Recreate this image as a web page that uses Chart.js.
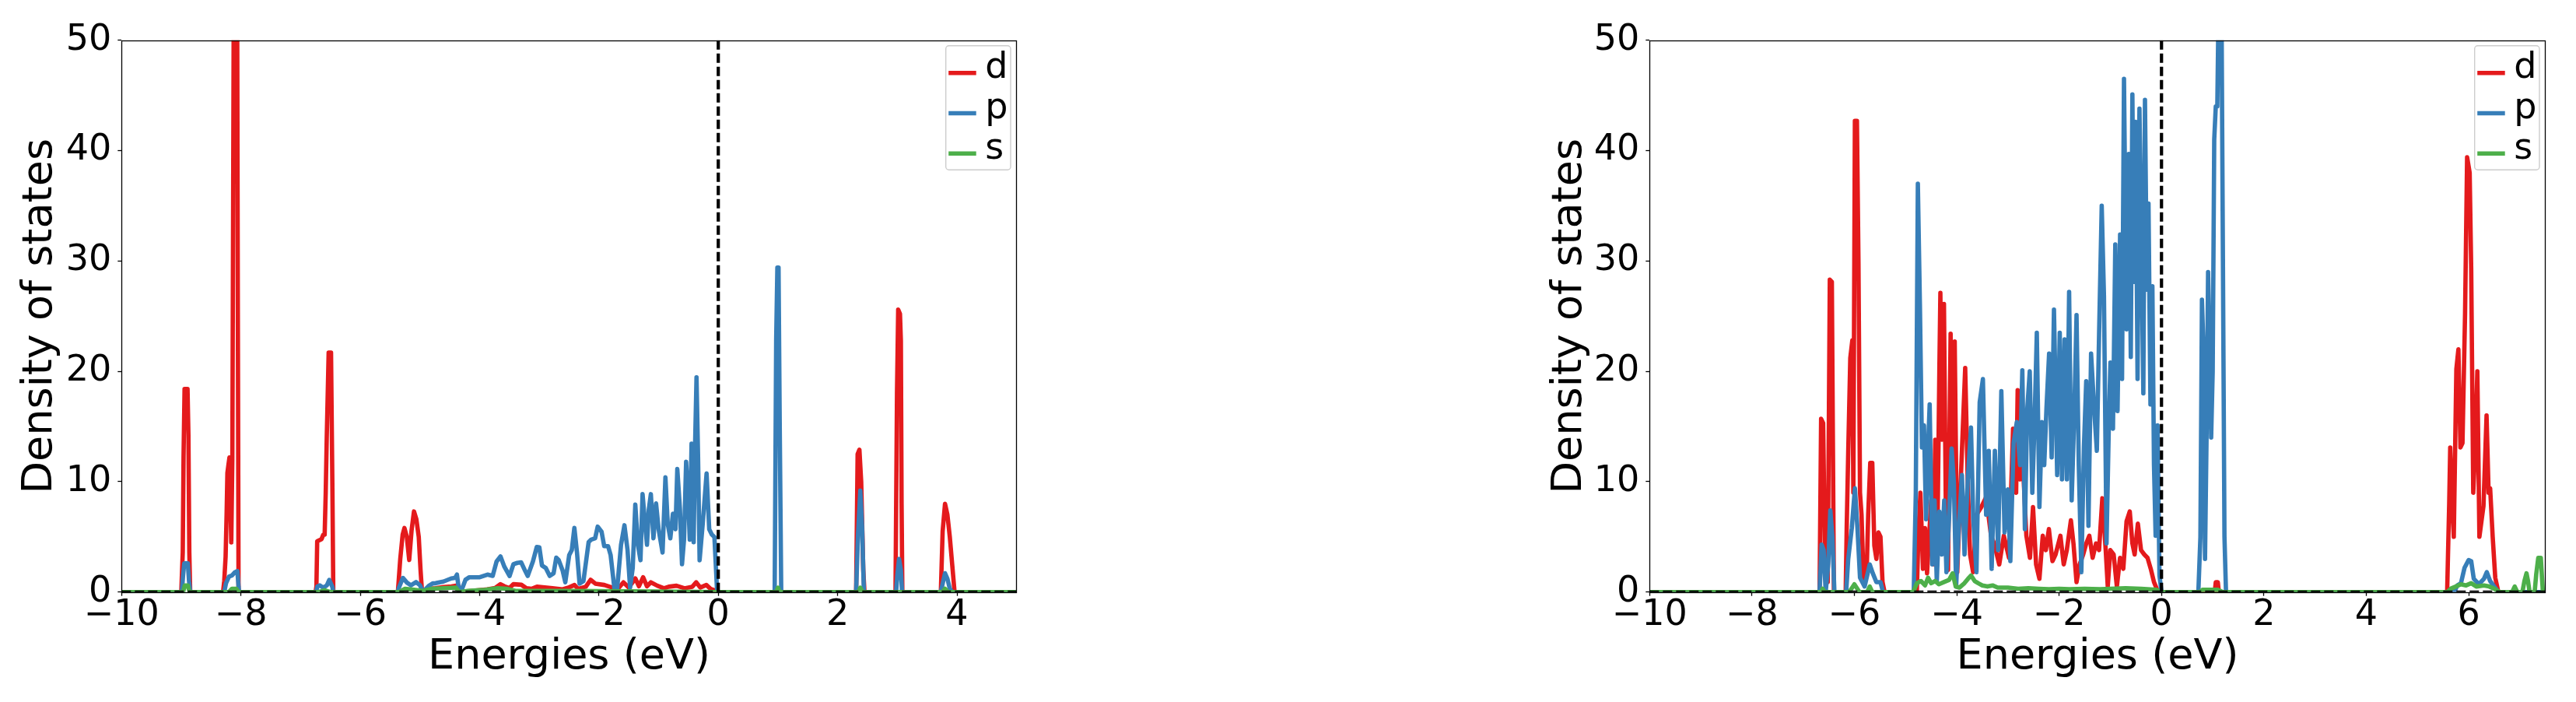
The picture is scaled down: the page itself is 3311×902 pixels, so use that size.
<!DOCTYPE html>
<html>
<head>
<meta charset="utf-8">
<script src="https://cdn.jsdelivr.net/npm/chart.js@4.4.1/dist/chart.umd.min.js"></script>
<style>
  html, body { margin: 0; padding: 0; background: #ffffff; }
  body { width: 3311px; height: 902px; position: relative; overflow: hidden; }
  canvas { position: absolute; top: 0; }
  #cL { left: 0px; }
  #cR { left: 1950px; }
</style>
</head>
<body>
<canvas id="cL" width="1400" height="902"></canvas>
<canvas id="cR" width="1361" height="902"></canvas>
<script>
// ---------------- DATA ----------------
const seriesNames = ['d', 'p', 's'];
const seriesColors = ['#e41a1c', '#377eb8', '#4daf4a'];
const yTicks = [0, 10, 20, 30, 40, 50];
const xTicksLeft = [-10, -8, -6, -4, -2, 0, 2, 4];
const xTicksRight = [-10, -8, -6, -4, -2, 0, 2, 4, 6];
const xRangeLeft = [-10, 5];
const xRangeRight = [-10, 7.5];
const yRange = [0, 50];
const fermiLevel = 0;

// Left panel, d
const L_dE = [-10,-9.0,-8.975,-8.962,-8.945,-8.895,-8.88,-8.865,-8.85,
  -8.30,-8.28,-8.257,-8.24,-8.227,-8.21,-8.192,-8.162,-8.144,-8.118,-8.065,-8.052,-8.04,
  -6.75,-6.735,-6.722,-6.649,-6.62,-6.597,-6.579,-6.562,-6.53,-6.49,-6.467,-6.452,
  -5.37,-5.33,-5.29,-5.26,-5.22,-5.18,-5.14,-5.10,-5.06,-5.02,-4.99,-4.965,
  -4.95,-4.85,-4.74,-4.60,-4.47,-4.41,-4.35,-4.33,-4.25,-4.1,-3.87,-3.74,-3.65,-3.585,-3.50,-3.433,-3.30,-3.216,-3.13,-3.04,-2.91,-2.78,-2.61,-2.52,-2.41,-2.35,-2.22,-2.14,-2.06,-1.91,-1.78,-1.70,-1.59,-1.50,-1.39,-1.33,-1.26,-1.195,-1.13,-1.02,-0.91,-0.83,-0.70,-0.565,-0.435,-0.37,-0.30,-0.20,-0.13,-0.065,-0.02,
  2.31,2.335,2.365,2.395,2.43,2.45,
  2.97,2.995,3.015,3.045,3.06,3.072,3.085,
  3.73,3.76,3.80,3.84,3.88,3.92,3.96,5];
const L_dV = [0,0,3.6,12.2,18.4,18.4,14.2,3.6,0,
  0,1,3.2,7.1,10.8,11.5,12.2,4.5,12,58,58,25.6,0,
  0,0.5,4.6,4.8,5.2,5.2,9,14,21.7,21.7,9.4,0,
  0,3.0,5.2,5.8,5.0,2.9,5.6,7.3,6.6,5.0,2.0,0,
  0.1,0.3,0.34,0.45,0.5,0.57,0.55,0,0.05,0.12,0.24,0.36,0.71,0.52,0.36,0.71,0.66,0.34,0.29,0.48,0.41,0.34,0.24,0.38,0.64,0.29,0.48,1.11,0.76,0.64,0.41,0.17,0.88,0.41,1.23,0.52,1.34,0.52,0.88,0.57,0.34,0.48,0.57,0.34,0.48,0.88,0.41,0.64,0.29,0.17,0,
  0,12.5,12.9,10,2,0,
  0,18,25.6,25.2,22.8,8,0,
  0,5.5,8.0,7.0,5.0,2.5,0,0];

// Left panel, p
const L_pE = [-10,-8.99,-8.97,-8.95,-8.89,-8.87,-8.85,
  -8.28,-8.25,-8.2,-8.15,-8.1,-8.06,-8.04,-8.03,
  -6.74,-6.72,-6.68,-6.62,-6.56,-6.52,-6.47,-6.45,
  -5.37,-5.352,-5.285,-5.218,-5.152,-5.065,-4.998,-4.952,-4.854,-4.786,-4.737,-4.607,-4.476,-4.411,-4.38,-4.346,-4.302,-4.237,-4.172,-3.998,-3.868,-3.781,-3.716,-3.65,-3.585,-3.498,-3.433,-3.368,-3.303,-3.238,-3.194,-3.107,-3.042,-2.999,-2.955,-2.89,-2.825,-2.76,-2.716,-2.673,-2.608,-2.564,-2.499,-2.455,-2.412,-2.368,-2.325,-2.26,-2.173,-2.13,-2.064,-2.021,-1.956,-1.912,-1.847,-1.804,-1.738,-1.695,-1.63,-1.573,-1.521,-1.478,-1.434,-1.391,-1.347,-1.304,-1.269,-1.234,-1.195,-1.165,-1.13,-1.087,-1.043,-1.0,-0.934,-0.886,-0.847,-0.804,-0.76,-0.717,-0.687,-0.643,-0.608,-0.574,-0.539,-0.504,-0.478,-0.448,-0.413,-0.391,-0.365,-0.339,-0.313,-0.261,-0.196,-0.152,-0.109,-0.065,-0.022,0.0,
  0.945,0.97,0.99,1.01,1.03,1.055,
  2.31,2.34,2.38,2.41,2.44,
  2.98,3.00,3.03,3.06,3.08,
  3.73,3.77,3.80,3.84,3.88,3.92,5];
const L_pV = [0,0,1.5,2.6,2.6,1.0,0,
  0,0.8,1.4,1.5,1.8,1.9,0.5,0,
  0,0.5,0.6,0.4,0.6,1.1,0.5,0,
  0,0.4,1.28,0.85,0.61,0.9,0.6,0,0.55,0.78,0.80,0.95,1.23,1.28,1.58,0.17,0.17,1.11,1.34,1.34,1.58,1.46,2.76,3.23,2.29,1.46,2.52,2.64,2.69,1.93,1.46,2.76,4.09,4.05,2.40,2.17,1.46,1.70,3.11,2.88,1.93,0.88,3.34,3.81,5.81,3.58,0.76,0.99,4.52,4.75,4.87,5.93,5.46,4.16,4.16,3.34,0.17,0.29,4.28,6.05,3.81,0.40,2.17,7.93,4.28,2.88,8.87,6.63,4.28,7.46,8.87,4.87,8.04,5.69,3.58,10.39,6.16,4.87,7.1,5.69,11.15,7.57,2.52,4.75,11.8,8.51,4.75,13.45,4.52,12.75,19.45,12.28,2.88,6.16,10.75,5.69,5.22,4.99,0.29,0,
  0,22.8,29.4,29.4,14.9,0,
  0,5,9.2,6,0,
  0,1.5,3.0,2.0,0,
  0,1.0,1.7,1.2,0.3,0,0];

// Left panel, s
const L_sE = [-10,-8.97,-8.94,-8.89,-8.86,-8.2,-8.15,-8.08,-8.04,-6.7,-6.6,-6.5,-5.35,-5.25,-5.1,-4.95,-4.8,-4.6,-4.4,-4.34,-4.2,-3.9,-3.7,-3.55,-3.4,-2.5,-1.0,0,0.97,1.0,1.03,2.35,2.38,2.42,3.76,3.8,3.85,5];
const L_sV = [0,0,0.6,0.6,0,0,0.3,0.3,0,0,0.15,0,0,0.3,0.2,0.1,0.3,0.35,0.4,0,0.1,0.2,0.35,0.3,0.1,0.1,0.05,0,0,0.4,0,0,0.4,0,0,0.3,0,0];

// Right panel, d
const R_dE = [-10,-6.68,-6.65,-6.61,-6.57,-6.52,-6.48,-6.44,-6.40,
  -6.17,-6.15,-6.12,-6.08,-6.04,-6.02,-5.99,-5.95,-5.92,-5.89,-5.86,-5.82,-5.76,-5.73,-5.69,-5.65,-5.61,-5.57,-5.53,-5.49,-5.45,-5.41,
  -4.78,-4.75,-4.71,-4.66,-4.62,-4.58,-4.54,-4.50,-4.46,-4.42,-4.38,-4.34,-4.32,-4.29,-4.25,-4.21,-4.17,-4.14,-4.12,-4.08,-4.04,-3.99,-3.91,-3.835,-3.785,-3.74,-3.68,-3.615,-3.52,-3.426,-3.33,-3.27,-3.17,-3.08,-2.98,-2.90,-2.84,-2.81,-2.76,-2.70,-2.64,-2.57,-2.51,-2.45,-2.385,-2.32,-2.26,-2.20,-2.13,-2.07,-1.975,-1.91,-1.85,-1.77,-1.72,-1.66,-1.60,-1.53,-1.47,-1.41,-1.345,-1.28,-1.22,-1.156,-1.09,-1.05,-1.0,-0.935,-0.872,-0.81,-0.746,-0.683,-0.62,-0.569,-0.525,-0.462,-0.40,-0.336,-0.273,-0.21,-0.147,-0.084,-0.05,
  1.04,1.06,1.1,1.12,
  5.58,5.62,5.64,5.67,5.71,5.76,5.80,5.84,5.88,5.93,5.97,6.02,6.05,6.09,6.13,6.17,6.21,6.29,6.35,6.39,6.42,6.47,6.52,6.58,7.5];
const R_dV = [0,0,15.7,15.3,1.3,0.9,28.3,28.1,0,
  0,5.8,12.7,21.2,22.8,9,42.7,42.7,29.9,9.0,7.0,0.9,1.7,7.0,11.7,11.7,4.2,3.0,5.4,5.0,0.9,0,
  0,5.0,9.0,2.1,5.8,1.7,5.0,8.3,2.5,13.8,4,20,27.1,13.8,26.1,6,2,15,23.4,11,22.7,1.8,11.5,20.3,9.9,3.4,1.8,7.0,7.7,8.6,5.1,4.4,2.5,5.1,3.1,14.8,9.0,18.3,10.2,10.9,5.1,3.1,7.7,2.5,1.2,5.1,3.8,5.7,2.8,3.4,5.1,2.5,3.8,6.5,4.4,0.9,2.5,3.4,4.4,5.1,3.1,4.4,3.8,8.5,3.8,0.5,3.8,3.4,0.5,3.1,2.1,6.4,7.3,4.4,3.4,6.2,3.8,3.4,3.1,2.1,0.9,0.2,0,
  0,0.9,0.9,0,
  0,8,13.1,9.0,5.0,20.2,22.0,13.1,13.5,25.2,39.4,38.0,29.3,9.0,13.1,20,5.0,7.8,16.0,9.0,9.4,5.0,1.3,0,0];

// Right panel, p
const R_pE = [-10,-6.68,-6.64,-6.60,-6.56,-6.51,-6.47,-6.43,-6.39,
  -6.16,-6.12,-6.05,-5.99,-5.94,-5.89,-5.80,-5.70,-5.64,-5.57,-5.49,-5.44,
  -4.84,-4.80,-4.76,-4.72,-4.68,-4.64,-4.60,-4.56,-4.529,-4.479,-4.434,-4.39,-4.34,-4.289,-4.245,-4.201,-4.151,-4.1,-4.056,-4.012,-3.962,-3.899,-3.848,-3.785,-3.722,-3.678,-3.615,-3.552,-3.489,-3.426,-3.375,-3.318,-3.255,-3.192,-3.129,-3.066,-3.003,-2.953,-2.89,-2.827,-2.764,-2.719,-2.669,-2.625,-2.574,-2.524,-2.48,-2.436,-2.385,-2.335,-2.291,-2.247,-2.196,-2.146,-2.101,-2.038,-1.988,-1.944,-1.893,-1.849,-1.805,-1.755,-1.704,-1.66,-1.616,-1.566,-1.515,-1.471,-1.427,-1.376,-1.313,-1.263,-1.219,-1.168,-1.124,-1.074,-1.029,-0.998,-0.948,-0.903,-0.859,-0.809,-0.771,-0.733,-0.683,-0.639,-0.6,-0.569,-0.538,-0.506,-0.468,-0.431,-0.393,-0.355,-0.323,-0.286,-0.254,-0.216,-0.178,-0.147,-0.115,-0.078,-0.04,0.0,
  0.72,0.76,0.79,0.82,0.85,0.88,0.91,0.94,0.97,1.00,1.03,1.06,1.09,1.12,1.17,1.20,1.23,1.26,
  5.72,5.78,5.85,5.92,6.0,6.05,6.1,6.2,6.3,6.355,6.42,6.5,6.58,7.5];
const R_pV = [0,0,4.3,3.8,0,2.6,7.4,5.0,0,
  0,3.0,5.8,9.4,5.8,1.3,0.5,2.5,1.7,0.9,0.9,0,
  0,9.0,37.0,26.1,13.1,15.1,6.6,13.1,17.0,2.5,8.3,0.9,7.3,3.4,8.3,1.8,6.7,13.0,9.9,0.5,5.7,10.6,3.4,10.2,14.9,6.7,1.8,17.2,19.3,7.0,12.8,2.1,12.8,3.8,18.2,5.4,9.3,2.8,13.5,15.4,11.5,20.1,5.7,16.4,20.0,9.0,15.4,23.5,7.7,15.4,11.5,16.7,21.6,12.2,25.6,10.6,23.5,10.2,22.9,10.2,27.2,8.3,16.1,25.1,11.5,1.8,13.2,19.1,6.0,21.6,16.4,12.8,23.5,35.0,26.8,4.4,15.1,20.8,14.8,31.5,16.4,32.4,19.3,46.5,23.8,39.7,21.3,45.1,28.1,42.6,19.3,43.8,31.6,18.0,44.6,27.4,35.2,17.0,27.7,11.5,5.1,15.1,1.5,0,
  0,5,26.5,22,3,14,29,22,14,20,41,44,44,55,55,30,5,0,
  0,0.6,0.8,2.2,2.9,2.8,1.2,0.7,1.2,1.8,1.0,0.5,0,0];

// Right panel, s
const R_sE = [-10,-6.65,-6.62,-6.58,-6.1,-6.0,-5.9,-5.75,-5.7,-5.65,-4.85,-4.78,-4.70,-4.62,-4.56,-4.50,-4.42,-4.35,-4.25,-4.15,-4.08,-4.02,-3.95,-3.85,-3.78,-3.72,-3.65,-3.58,-3.50,-3.40,-3.3,-3.2,-3.0,-2.8,-2.6,-2.4,-2.2,-2.0,-1.8,-1.5,-1.2,-1.0,-0.7,-0.4,-0.1,0,0.75,0.8,1.1,1.2,5.58,5.65,5.75,5.85,5.95,6.05,6.15,6.3,6.4,6.5,6.6,6.85,6.9,6.95,7.05,7.09,7.13,7.16,7.19,7.29,7.32,7.36,7.41,7.45,7.5];
const R_sV = [0,0,0.3,0,0,0.7,0,0,0.5,0,0,0.8,1.0,0.6,1.3,0.8,1.0,0.7,0.9,1.1,1.7,0.5,0.4,0.8,1.2,1.5,1.0,0.8,0.6,0.5,0.6,0.4,0.4,0.3,0.35,0.3,0.25,0.3,0.25,0.3,0.25,0.3,0.35,0.3,0.2,0,0,0.2,0.2,0,0,0.3,0.5,0.7,0.6,0.8,0.5,0.6,0.5,0.3,0,0,0.5,0,0,1.0,1.7,1.0,0,0,1.6,3.1,3.1,0,0];

// ---------------- RENDERING ----------------
const FONT = 'DejaVu Sans';
const LINE_W = 5.6;
const pts = (E, V) => E.map((x, i) => ({ x: x, y: V[i] }));
const fmtTick = v => (v < 0 ? '\u2212' + Math.abs(v) : String(v));

const framePlugin = {
  id: 'frameAndLegend',
  afterDatasetsDraw(chart) {
    const { ctx, chartArea: a } = chart;
    ctx.save();
    ctx.strokeStyle = '#000';
    ctx.lineWidth = 1.3;
    const L = Math.round(a.left) + 0.5, T = Math.round(a.top) + 0.5;
    const R = Math.round(a.right) - 0.5, B = Math.round(a.bottom) + 0.5;
    ctx.strokeRect(L, T, R - L, B - T);
    // legend inside, upper right
    const w = 83.3, h = 159.5;
    const x0 = a.right - 7.7 - w, y0 = a.top + 7;
    const r = 4;
    ctx.beginPath();
    ctx.moveTo(x0 + r, y0);
    ctx.lineTo(x0 + w - r, y0); ctx.arcTo(x0 + w, y0, x0 + w, y0 + r, r);
    ctx.lineTo(x0 + w, y0 + h - r); ctx.arcTo(x0 + w, y0 + h, x0 + w - r, y0 + h, r);
    ctx.lineTo(x0 + r, y0 + h); ctx.arcTo(x0, y0 + h, x0, y0 + h - r, r);
    ctx.lineTo(x0, y0 + r); ctx.arcTo(x0, y0, x0 + r, y0, r);
    ctx.closePath();
    ctx.fillStyle = 'rgba(255,255,255,0.8)';
    ctx.fill();
    ctx.strokeStyle = '#cccccc';
    ctx.lineWidth = 1.4;
    ctx.stroke();
    ctx.font = '46px "' + FONT + '"';
    ctx.textBaseline = 'alphabetic';
    ctx.textAlign = 'left';
    seriesNames.forEach((name, i) => {
      const y = y0 + 35 + i * 51.8;
      ctx.strokeStyle = seriesColors[i];
      ctx.lineWidth = LINE_W;
      ctx.beginPath();
      ctx.moveTo(x0 + 3.5, y);
      ctx.lineTo(x0 + 39, y);
      ctx.stroke();
      ctx.fillStyle = '#000';
      ctx.fillText(name, x0 + 50.5, y + 6.5);
    });
    ctx.restore();
  }
};

function makeChart(canvasId, xRange, xTicks, series, yAxisWidth, rightPad, yTitlePad) {
  const datasets = [];
  // reference dashed lines (drawn on top)
  datasets.push({
    data: [{ x: fermiLevel, y: yRange[0] }, { x: fermiLevel, y: yRange[1] }],
    borderColor: '#000', borderWidth: 4.2, borderDash: [12, 5], pointRadius: 0, clip: 0, order: 0
  });
  datasets.push({
    data: [{ x: xRange[0], y: 0 }, { x: xRange[1], y: 0 }],
    borderColor: '#000', borderWidth: 3.8, borderDash: [12, 5], pointRadius: 0, clip: 0, order: 0
  });
  series.forEach((s, i) => {
    datasets.push({
      label: seriesNames[i],
      data: pts(s[0], s[1]),
      borderColor: seriesColors[i],
      borderWidth: LINE_W,
      borderJoinStyle: 'round',
      pointRadius: 0,
      tension: 0,
      clip: 0,
      order: 10 - i
    });
  });
  return new Chart(document.getElementById(canvasId), {
    type: 'line',
    data: { datasets },
    options: {
      responsive: false,
      animation: false,
      devicePixelRatio: 1,
      events: [],
      layout: { padding: { left: 0, top: 51.7, right: rightPad, bottom: 0 } },
      plugins: { legend: { display: false }, tooltip: { enabled: false } },
      scales: {
        x: {
          type: 'linear', min: xRange[0], max: xRange[1],
          afterBuildTicks: sc => { sc.ticks = xTicks.map(v => ({ value: v })); },
          afterFit: sc => { sc.height = 141.3; },
          border: { display: false },
          grid: { drawOnChartArea: false, drawTicks: true, tickLength: 5, tickWidth: 1.3, tickColor: '#000' },
          ticks: { color: '#000', font: { family: FONT, size: 46, lineHeight: 1.0 }, padding: 2,
                   maxRotation: 0, autoSkip: false, callback: v => fmtTick(v) },
          title: { display: true, text: 'Energies (eV)', color: '#000',
                   font: { family: FONT, size: 54 }, padding: { top: 0, bottom: 25 } }
        },
        y: {
          type: 'linear', min: yRange[0], max: yRange[1],
          afterBuildTicks: sc => { sc.ticks = yTicks.map(v => ({ value: v })); },
          afterFit: sc => { sc.width = yAxisWidth; },
          border: { display: false },
          grid: { drawOnChartArea: false, drawTicks: true, tickLength: 5, tickWidth: 1.3, tickColor: '#000' },
          ticks: { color: '#000', font: { family: FONT, size: 46 }, padding: 8, callback: v => fmtTick(v) },
          title: { display: true, text: 'Density of states', color: '#000',
                   font: { family: FONT, size: 54 }, padding: { top: yTitlePad, bottom: 0 } }
        }
      }
    },
    plugins: [framePlugin]
  });
}

makeChart('cL', xRangeLeft, xTicksLeft, [[L_dE, L_dV], [L_pE, L_pV], [L_sE, L_sV]], 156.3, 93.3, 19.6);
makeChart('cR', xRangeRight, xTicksRight, [[R_dE, R_dV], [R_pE, R_pV], [R_sE, R_sV]], 170.3, 39.3, 36);
</script>
</body>
</html>
